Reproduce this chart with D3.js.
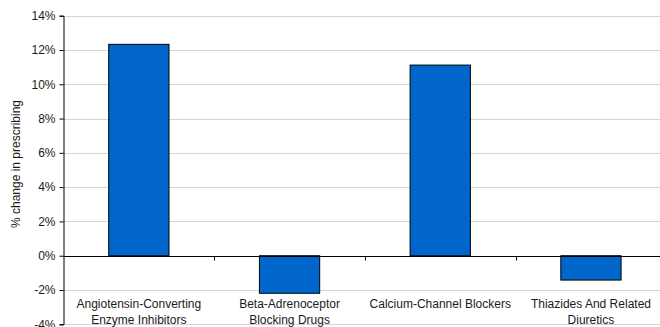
<!DOCTYPE html>
<html>
<head>
<meta charset="utf-8">
<script src="https://cdn.jsdelivr.net/npm/d3@7"></script>
<style>
  html, body { margin: 0; padding: 0; background: #fff; }
  svg { display: block; }
  text { font-family: "Liberation Sans", Arial, sans-serif; fill: #1a1a1a; }
</style>
</head>
<body>
<svg id="chart" width="660" height="327"></svg>
<script>
// Change in prescribing by drug group
const categories = [
  ["Angiotensin-Converting", "Enzyme Inhibitors"],
  ["Beta-Adrenoceptor", "Blocking Drugs"],
  ["Calcium-Channel Blockers"],
  ["Thiazides And Related", "Diuretics"]
];
const changeValues = [12.33, -2.19, 11.12, -1.42];
const yTicks = [-4, -2, 0, 2, 4, 6, 8, 10, 12, 14];

const svg = d3.select("#chart");
const plotLeft = 63.5, plotRight = 666.3, plotTop = 15.7, plotBottom = 324.3;

const x = d3.scaleBand()
  .domain(d3.range(categories.length))
  .range([plotLeft, plotRight])
  .paddingInner(0).paddingOuter(0);

const y = d3.scaleLinear().domain([-4, 14]).range([plotBottom, plotTop]);

// Horizontal gridlines
svg.append("g")
  .selectAll("line")
  .data(yTicks.filter(d => d !== 0))
  .join("line")
  .attr("x1", plotLeft).attr("x2", 660)
  .attr("y1", d => Math.round(y(d)) + 0.5)
  .attr("y2", d => Math.round(y(d)) + 0.5)
  .attr("stroke", "#d4d4d4")
  .attr("stroke-width", 1);

// Bars
const barW = x.bandwidth() * 0.4;
svg.append("g")
  .selectAll("rect")
  .data(changeValues)
  .join("rect")
  .attr("x", (d, i) => x(i) + (x.bandwidth() - barW) / 2)
  .attr("width", barW)
  .attr("y", d => y(Math.max(0, d)))
  .attr("height", d => Math.abs(y(d) - y(0)))
  .attr("fill", "#0066CC")
  .attr("stroke", "#000")
  .attr("stroke-width", 1);

// Y axis
const yAxis = d3.axisLeft(y)
  .tickValues(yTicks)
  .tickSize(4)
  .tickPadding(4)
  .tickFormat(d => d + "%");
const gy = svg.append("g")
  .attr("transform", `translate(${plotLeft},0)`)
  .call(yAxis);
gy.select(".domain").attr("stroke", "#000");
gy.selectAll(".tick line").attr("stroke", "#000");
gy.selectAll(".tick text")
  .attr("font-size", 12)
  .attr("fill", "#1a1a1a")
  .style("font-family", "'Liberation Sans', Arial, sans-serif");

// Zero line with category separators
const zeroY = Math.round(y(0)) + 0.5;
svg.append("line")
  .attr("x1", plotLeft).attr("x2", 660)
  .attr("y1", zeroY).attr("y2", zeroY)
  .attr("stroke", "#000");
svg.append("g")
  .selectAll("line")
  .data(d3.range(1, categories.length + 1))
  .join("line")
  .attr("x1", i => Math.round(x.step() * i + plotLeft) + 0.5)
  .attr("x2", i => Math.round(x.step() * i + plotLeft) + 0.5)
  .attr("y1", zeroY).attr("y2", zeroY + 4)
  .attr("stroke", "#000");

// Category labels
const labels = svg.append("g")
  .selectAll("text")
  .data(categories)
  .join("text")
  .attr("text-anchor", "middle")
  .attr("font-size", 12)
  .attr("x", (d, i) => x(i) + x.bandwidth() / 2)
  .attr("y", 307.5);
labels.selectAll("tspan")
  .data(d => d)
  .join("tspan")
  .attr("x", function () { return d3.select(this.parentNode).attr("x"); })
  .attr("dy", (d, i) => i === 0 ? 0 : 16.5)
  .text(d => d);

// Y axis title
svg.append("text")
  .attr("transform", "translate(19.5,164) rotate(-90)")
  .attr("text-anchor", "middle")
  .attr("font-size", 12)
  .text("% change in prescribing");
</script>
</body>
</html>
